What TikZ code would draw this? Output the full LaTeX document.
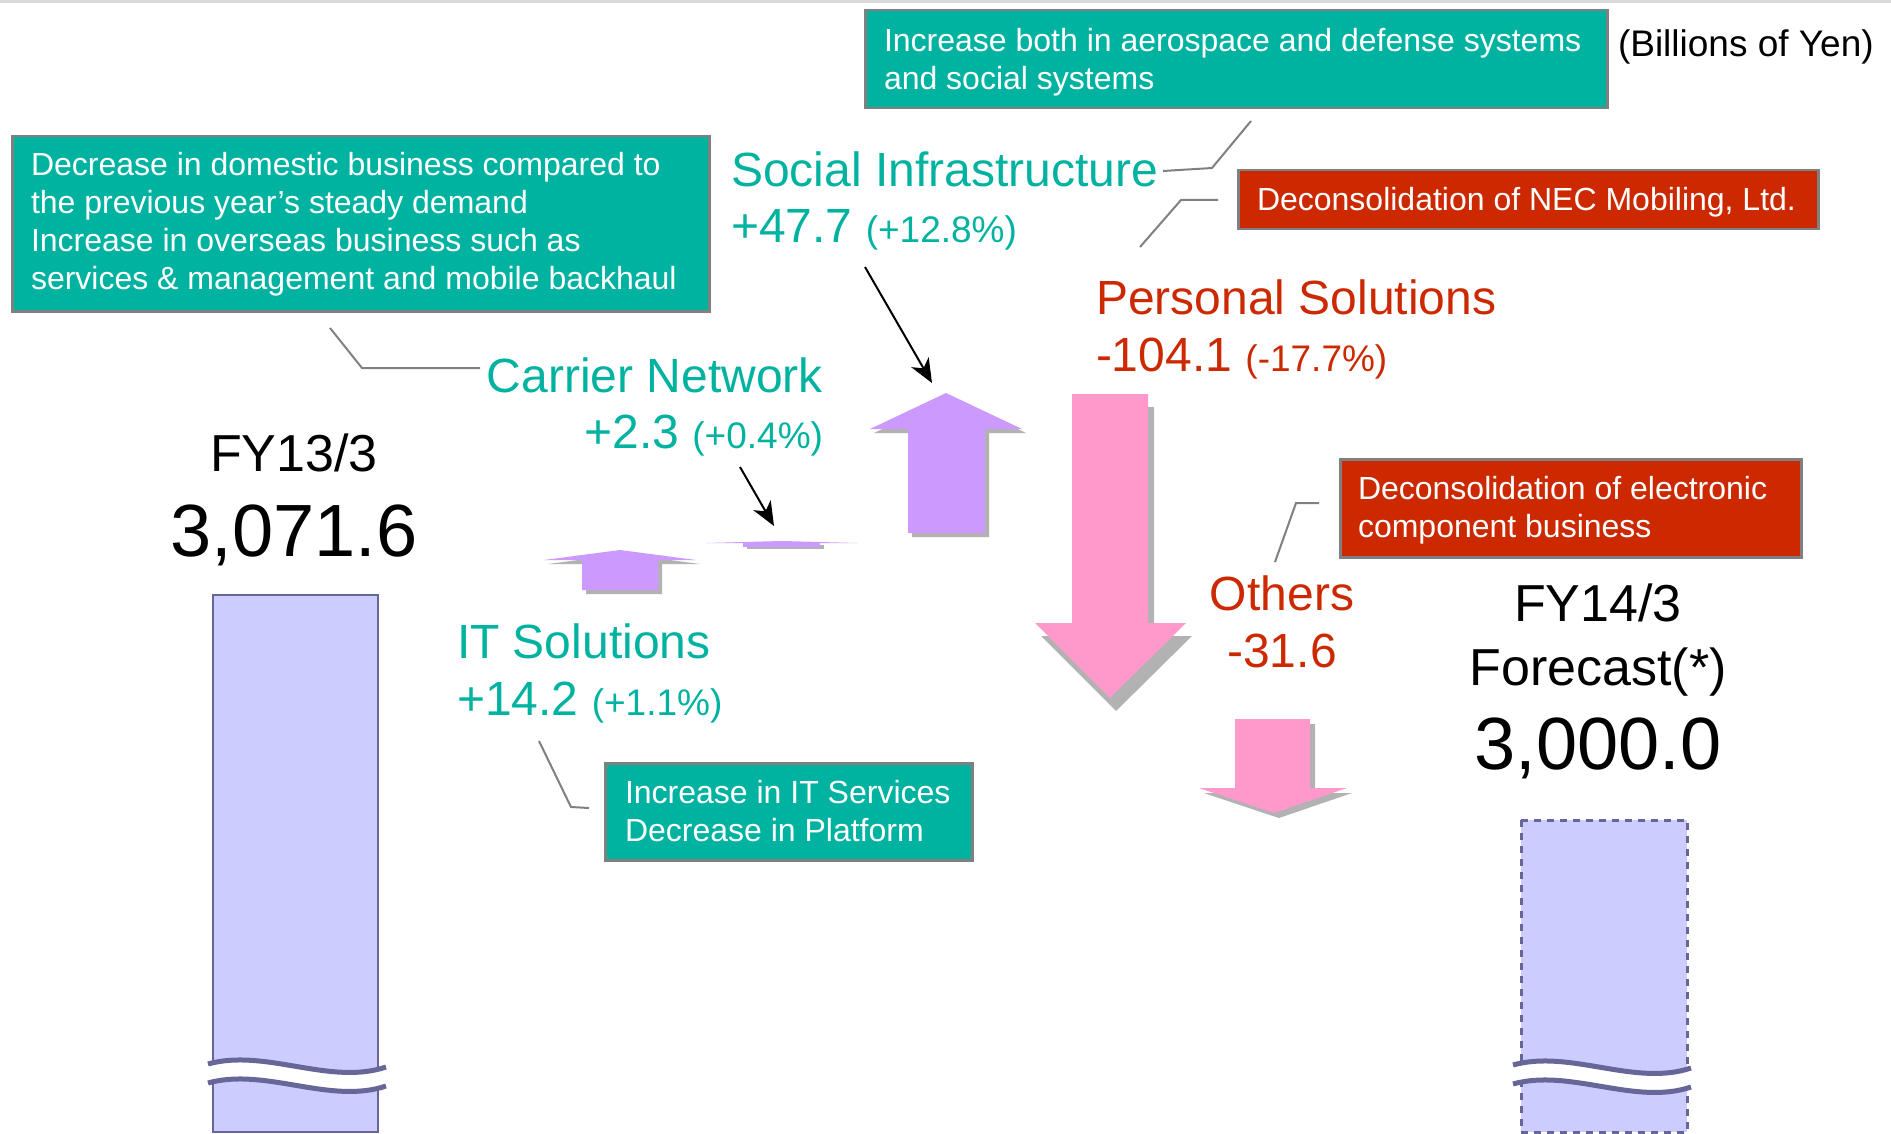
\documentclass[tikz,border=0pt]{standalone}
\usepackage{fontspec}
\setmainfont{Liberation Sans}
\usetikzlibrary{arrows.meta}
\definecolor{nteal}{RGB}{0,178,160}
\definecolor{nred}{RGB}{204,41,0}
\definecolor{upfill}{RGB}{204,153,255}
\definecolor{downfill}{RGB}{255,153,204}
\definecolor{shadecol}{RGB}{178,178,178}
\definecolor{barfill}{RGB}{204,204,255}
\definecolor{barline}{RGB}{102,102,153}
\definecolor{boxline}{RGB}{128,128,128}
\newcommand\FBig{\fontsize{48}{56}\selectfont}
\newcommand\FPct{\fontsize{37}{44}\selectfont}
\newcommand\FNote{\fontsize{32}{38}\selectfont}
\newcommand\FYear{\fontsize{52}{62}\selectfont}
\newcommand\FVal{\fontsize{74}{86}\selectfont}
\newcommand\NoteLines[2]{\parbox[t]{#1}{\FNote\raggedright #2}}
\begin{document}
\begin{tikzpicture}[x=1pt,y=-1pt,
  lbl/.style={inner sep=0pt, outer sep=0pt},
  tealtxt/.style={lbl, text=nteal, font=\FBig},
  redtxt/.style={lbl, text=nred, font=\FBig},
  blacktxt/.style={lbl, text=black},
  notetxt/.style={lbl, text=white, anchor=base west},
  tealbox/.style={draw=boxline, fill=nteal, line width=2.5pt},
  redbox/.style={draw=boxline, fill=nred, line width=2.5pt},
  leader/.style={draw=boxline, line width=2pt},
  pointer/.style={draw=black, line width=2pt, -{Stealth[length=24pt,width=20pt,inset=7pt]}},
  barbox/.style={fill=barfill, draw=barline, line width=2.5pt},
  wavecut/.style={draw=barline, line width=5pt},
]
\useasboundingbox (0,0) rectangle (1891,1134);
\fill[white] (0,0) rectangle (1891,1134);
\draw[black!15, line width=3pt] (0,1.5) -- (1891,1.5);

% ---------- bars ----------
\draw[barbox] (213,595) rectangle (378,1132);
\fill[barfill] (1521,820) rectangle (1687,1132);
\draw[draw=barline, line width=3pt, dash pattern=on 7pt off 6pt] (1521,820) rectangle (1687,1132);
\begin{scope}
  \fill[white] (208,1064) .. controls (265,1048) and (330,1086) .. (386,1067) -- (386,1086) .. controls (330,1105) and (265,1067) .. (208,1083) -- cycle;
  \draw[wavecut] (208,1064) .. controls (265,1048) and (330,1086) .. (386,1067);
  \draw[wavecut] (208,1083) .. controls (265,1067) and (330,1105) .. (386,1086);
\end{scope}
\begin{scope}[shift={(1305,1)}]
  \fill[white] (208,1064) .. controls (265,1048) and (330,1086) .. (386,1067) -- (386,1086) .. controls (330,1105) and (265,1067) .. (208,1083) -- cycle;
  \draw[wavecut] (208,1064) .. controls (265,1048) and (330,1086) .. (386,1067);
  \draw[wavecut] (208,1083) .. controls (265,1067) and (330,1105) .. (386,1086);
\end{scope}

% ---------- block arrows ----------
% IT Solutions (up)
\fill[shadecol, shift={(4,4)}] (544,560) -- (620,550) -- (696,560) -- (658,560) -- (658,590) -- (582,590) -- (582,560) -- cycle;
\fill[upfill] (544,560) -- (620,550) -- (696,560) -- (658,560) -- (658,590) -- (582,590) -- (582,560) -- cycle;
% Carrier Network (up, tiny)
\fill[shadecol, shift={(4,2)}] (743,543) -- (820,543) -- (820,547) -- (743,547) -- cycle;
\fill[upfill] (706,543) -- (782,541) -- (858,543) -- (820,543) -- (820,547) -- (743,547) -- (743,543) -- cycle;
% Social Infrastructure (up)
\fill[shadecol, shift={(4,4)}] (870,429) -- (946,393) -- (1022,429) -- (985,429) -- (985,533) -- (908,533) -- (908,429) -- cycle;
\fill[upfill] (870,429) -- (946,393) -- (1022,429) -- (985,429) -- (985,533) -- (908,533) -- (908,429) -- cycle;
% Personal Solutions (down)
\fill[shadecol, shift={(6,13)}] (1072,394) -- (1148,394) -- (1148,623) -- (1186,623) -- (1110,698) -- (1035,623) -- (1072,623) -- cycle;
\fill[downfill] (1072,394) -- (1148,394) -- (1148,623) -- (1186,623) -- (1110,698) -- (1035,623) -- (1072,623) -- cycle;
% Others (down)
\fill[shadecol, shift={(5,5)}] (1235,719) -- (1310,719) -- (1310,788) -- (1347,788) -- (1274,813) -- (1199,788) -- (1235,788) -- cycle;
\fill[downfill] (1235,719) -- (1310,719) -- (1310,788) -- (1347,788) -- (1274,813) -- (1199,788) -- (1235,788) -- cycle;

% ---------- note boxes ----------
\node[tealbox, anchor=north west, minimum width=697pt, minimum height=175pt] (boxA) at (11,135) {};
\node[notetxt] (boxAtxt) at (31,176) {\NoteLines{680pt}{Decrease in domestic business compared to\\the previous year’s steady demand\\Increase in overseas business such as\\services \& management and mobile backhaul}};

\node[tealbox, anchor=north west, minimum width=742pt, minimum height=98pt] (boxB) at (864,9) {};
\node[notetxt] (boxBtxt) at (884,52) {\NoteLines{720pt}{Increase both in aerospace and defense systems\\and social systems}};

\node[redbox, anchor=north west, minimum width=580pt, minimum height=59pt] (boxM) at (1237,169) {};
\node[notetxt] (boxMtxt) at (1257,211) {\NoteLines{560pt}{Deconsolidation of NEC Mobiling, Ltd.}};

\node[redbox, anchor=north west, minimum width=461pt, minimum height=98pt] (boxE) at (1339,458) {};
\node[notetxt] (boxEtxt) at (1358,499) {\NoteLines{440pt}{Deconsolidation of electronic\\component business}};

\node[tealbox, anchor=north west, minimum width=367pt, minimum height=97pt] (boxIT) at (604,762) {};
\node[notetxt] (boxITtxt) at (625,803) {\NoteLines{340pt}{Increase in IT Services\\Decrease in Platform}};

% ---------- labels ----------
\node[blacktxt, anchor=base west, font=\FPct] (unit) at (1618,57) {(Billions of Yen)};

\node[tealtxt, anchor=base west] (socLbl) at (731,187) {Social Infrastructure};
\node[tealtxt, anchor=base west] (socVal) at (731,243) {+47.7 {\FPct (+12.8\%)}};

\node[tealtxt, anchor=base east] (carLbl) at (823,392) {Carrier Network};
\node[tealtxt, anchor=base east] (carVal) at (823,448) {+2.3 {\FPct (+0.4\%)}};

\node[tealtxt, anchor=base west] (itLbl) at (457,658) {IT Solutions};
\node[tealtxt, anchor=base west] (itVal) at (457,715) {+14.2 {\FPct (+1.1\%)}};

\node[redtxt, anchor=base west] (perLbl) at (1096,314) {Personal Solutions};
\node[redtxt, anchor=base west] (perVal) at (1096,371) {-104.1 {\FPct (-17.7\%)}};

\node[redtxt, anchor=base] (othLbl) at (1282,610) {Others};
\node[redtxt, anchor=base] (othVal) at (1282,667) {-31.6};

\node[blacktxt, anchor=base, font=\FYear] (fy13) at (294,471) {FY13/3};
\node[blacktxt, anchor=base, font=\FVal] (val13) at (294,556) {3,071.6};

\node[blacktxt, anchor=base, font=\FYear] (fy14) at (1598,621) {FY14/3};
\node[blacktxt, anchor=base, font=\FYear] (fc14) at (1598,685) {Forecast(*)};
\node[blacktxt, anchor=base, font=\FVal] (val14) at (1598,769) {3,000.0};

% ---------- leader lines ----------
\coordinate (lA1) at (330,328); \coordinate (lA2) at (362,368); \coordinate (lA3) at (480,368);
\draw[leader] (lA1) -- (lA2) -- (lA3);
\coordinate (lS1) at (1163,171); \coordinate (lS2) at (1212,168); \coordinate (lS3) at (1251,121);
\draw[leader] (lS1) -- (lS2) -- (lS3);
\coordinate (lM1) at (1218,200); \coordinate (lM2) at (1181,200); \coordinate (lM3) at (1140,247);
\draw[leader] (lM1) -- (lM2) -- (lM3);
\coordinate (lE1) at (1319,503); \coordinate (lE2) at (1296,503); \coordinate (lE3) at (1275,562);
\draw[leader] (lE1) -- (lE2) -- (lE3);
\coordinate (lI1) at (539,741); \coordinate (lI2) at (571,807); \coordinate (lI3) at (589,808);
\draw[leader] (lI1) -- (lI2) -- (lI3);

% ---------- pointer arrows ----------
\coordinate (pS1) at (865,267); \coordinate (pS2) at (932,383);
\draw[pointer] (pS1) -- (pS2);
\coordinate (pC1) at (740,467); \coordinate (pC2) at (774,526);
\draw[pointer] (pC1) -- (pC2);
\end{tikzpicture}
\end{document}
